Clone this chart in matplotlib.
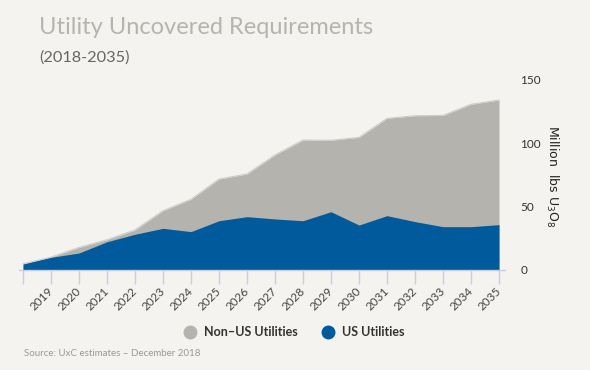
import matplotlib
matplotlib.use("Agg")
import matplotlib.pyplot as plt
import matplotlib.transforms as mtransforms
import numpy as np
from matplotlib.lines import Line2D

# values (million lbs U3O8)
years = list(range(2018, 2036))
us_utilities = [4.7, 10.0, 13.4, 22.3, 28.2, 32.9, 30.3, 38.9, 42.1, 40.3,
                38.9, 46.0, 35.5, 42.9, 38.2, 34.2, 34.2, 35.8]
non_us_utilities = [0.2, 0.2, 4.4, 1.6, 3.4, 13.9, 25.5, 32.9, 33.7, 50.5,
                    63.7, 56.4, 69.2, 76.8, 83.6, 87.8, 96.6, 98.4]
y_ticks = [0, 50, 100, 150]

BG = "#f4f3ef"
GRAY = "#b4b3ae"
BLUE = "#005a9c"
AXIS = "#c6cee0"

plt.rcParams["font.family"] = ["Lato", "DejaVu Sans"]

fig = plt.figure(figsize=(5.9, 3.7), dpi=100, facecolor=BG)
ax = fig.add_axes([19 / 590, 100 / 370, 486 / 590, 190 / 370])
ax.set_facecolor(BG)

x = np.array(years)
us = np.array(us_utilities)
total = us + np.array(non_us_utilities)
ax.fill_between(x, 0, total, color=GRAY, linewidth=0)
ax.plot(x, total, color="#cdccc8", linewidth=0.8)
ax.fill_between(x, 0, us, color=BLUE, linewidth=0)

ax.set_xlim(2018 - 4 / 28, 2035 + 6 / 28)
ax.set_ylim(0, 150)

for side in ["top", "left", "right"]:
    ax.spines[side].set_visible(False)
ax.spines["bottom"].set_color(AXIS)
ax.spines["bottom"].set_linewidth(1.0)

ax.set_xticks(years)
ax.set_xticklabels([""] + [str(y) for y in years[1:]], rotation=45,
                   ha="right", fontsize=8.5, color="#444444")
ax.tick_params(axis="x", length=10, width=1, color=AXIS, pad=1)
shift = mtransforms.ScaledTranslation(4 / 100, 0, fig.dpi_scale_trans)
for lbl in ax.get_xticklabels():
    lbl.set_transform(lbl.get_transform() + shift)

ax.yaxis.tick_right()
ax.set_yticks(y_ticks)
ax.set_yticklabels([str(v) for v in y_ticks], fontsize=8.5, color="#333333")
ax.tick_params(axis="y", length=0, pad=11)

fig.text(552 / 590, 1 - 176 / 370, "Million  lbs U$_3$O$_8$", rotation=270,
         ha="center", va="center", fontsize=9, color="#222222",
         family=["DejaVu Sans"])

fig.text(39 / 590, 1 - 28 / 370, "Utility Uncovered Requirements",
         fontsize=17, color="#b6b4af", va="center", ha="left")
fig.text(39 / 590, 1 - 58 / 370, "(2018-2035)", fontsize=11.8,
         color="#666666", va="center", ha="left")

handles = [
    Line2D([], [], marker="o", linestyle="", markersize=9,
           markerfacecolor=GRAY, markeredgecolor=GRAY),
    Line2D([], [], marker="o", linestyle="", markersize=9,
           markerfacecolor=BLUE, markeredgecolor=BLUE),
]
leg = fig.legend(handles, ["Non\u2013US Utilities", "US Utilities"], ncol=2,
                 loc="center", bbox_to_anchor=(294 / 590, 1 - 332 / 370),
                 frameon=False, handletextpad=0.6, columnspacing=1.9,
                 handlelength=1.0, prop={"size": 9, "weight": "bold"})
for t in leg.get_texts():
    t.set_color("#333333")

fig.text(24 / 590, 1 - 354 / 370, "Source: UxC estimates \u2013 December 2018",
         fontsize=7, color="#999999", va="center", ha="left")

fig.savefig("out.png", dpi=100, facecolor=BG)
